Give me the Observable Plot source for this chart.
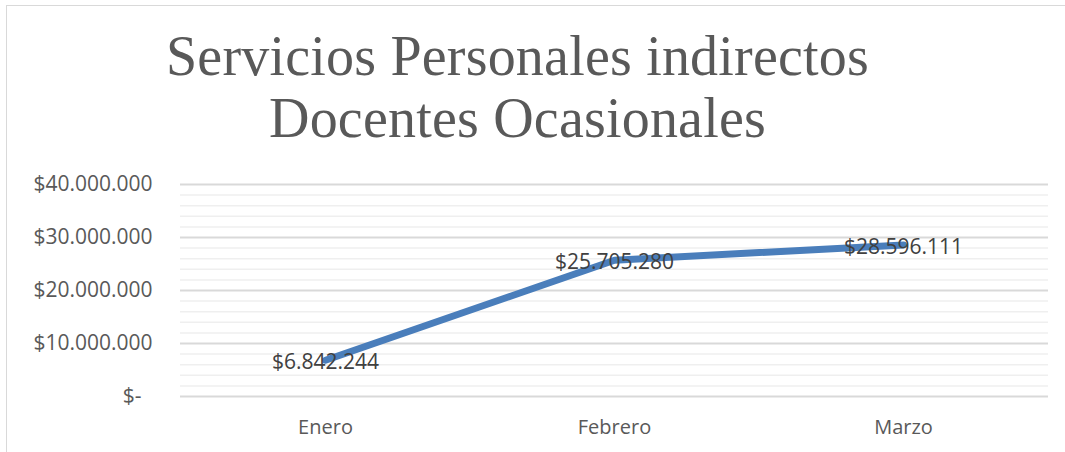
<!DOCTYPE html>
<html>
<head>
<meta charset="utf-8">
<script src="https://cdn.jsdelivr.net/npm/d3@7"></script>
<script src="https://cdn.jsdelivr.net/npm/@observablehq/plot@0.6"></script>
<style>
  html, body { margin: 0; padding: 0; background: #fff; }
  #wrap { position: relative; width: 1065px; height: 452px; overflow: hidden; background: #fff; }
  #borderTop { position: absolute; left: 7px; top: 5px; width: 1058px; height: 0; border-top: 1.5px solid #d9d9d9; }
  #borderLeft { position: absolute; left: 6px; top: 5px; width: 0; height: 447px; border-left: 1.5px solid #d9d9d9; }
  #title { position: absolute; left: 0; top: 0; width: 1035px; text-align: center;
           font-family: "Liberation Serif", "Times New Roman", serif; font-size: 56px; color: #595959;
           letter-spacing: 0.2px; line-height: 62px; }
  #title .l1 { position: absolute; left: 0; width: 100%; top: 25px; }
  #title .l2 { position: absolute; left: 0; width: 100%; top: 87px; }
  #chart { position: absolute; left: 0; top: 160px; }
</style>
</head>
<body>
<div id="wrap">
  <div id="borderTop"></div>
  <div id="borderLeft"></div>
  <div id="title"><div class="l1">Servicios Personales indirectos</div><div class="l2">Docentes Ocasionales</div></div>
  <div id="chart"></div>
</div>
<script>
const months = ["Enero", "Febrero", "Marzo"];
const values = [6842244, 25705280, 28596111];
const valueLabels = ["$6.842.244", "$25.705.280", "$28.596.111"];
const majorTicks = [0, 10000000, 20000000, 30000000, 40000000];
const minorTicks = [2000000, 4000000, 6000000, 8000000, 12000000, 14000000, 16000000, 18000000,
                    22000000, 24000000, 26000000, 28000000, 32000000, 34000000, 36000000, 38000000];

const data = months.map((m, i) => ({month: m, value: values[i], label: valueLabels[i]}));

const fmt = d => d === 0 ? "$-\u00a0\u00a0" : "$" + d3.format(",")(d).replace(/,/g, ".");

const chart = Plot.plot({
  width: 1065,
  height: 292,
  marginLeft: 180,
  marginRight: 17,
  marginTop: 24,
  marginBottom: 56,
  style: { fontFamily: "'Open Sans', sans-serif", background: "transparent" },
  x: { type: "point", domain: months, padding: 0.5 },
  y: { domain: [0, 40000000] },
  marks: [
    Plot.ruleY(minorTicks, { stroke: "#efefef", strokeWidth: 1.5 }),
    Plot.ruleY(majorTicks, { stroke: "#d9d9d9", strokeWidth: 1.8 }),
    Plot.axisY(majorTicks, { tickSize: 0, tickPadding: 28, tickFormat: fmt, fontSize: 21, fill: "#595959", label: null }),
    Plot.axisX({ tickSize: 0, tickPadding: 23, fontSize: 20, fill: "#595959", label: null }),
    Plot.line(data, { x: "month", y: "value", stroke: "#4a7ebb", strokeWidth: 7, strokeLinecap: "round", strokeLinejoin: "round" }),
    Plot.text(data, { x: "month", y: "value", text: "label", fontSize: 21, fill: "#404040", dy: 2, textAnchor: "middle" })
  ]
});
document.getElementById("chart").appendChild(chart);
</script>
</body>
</html>
